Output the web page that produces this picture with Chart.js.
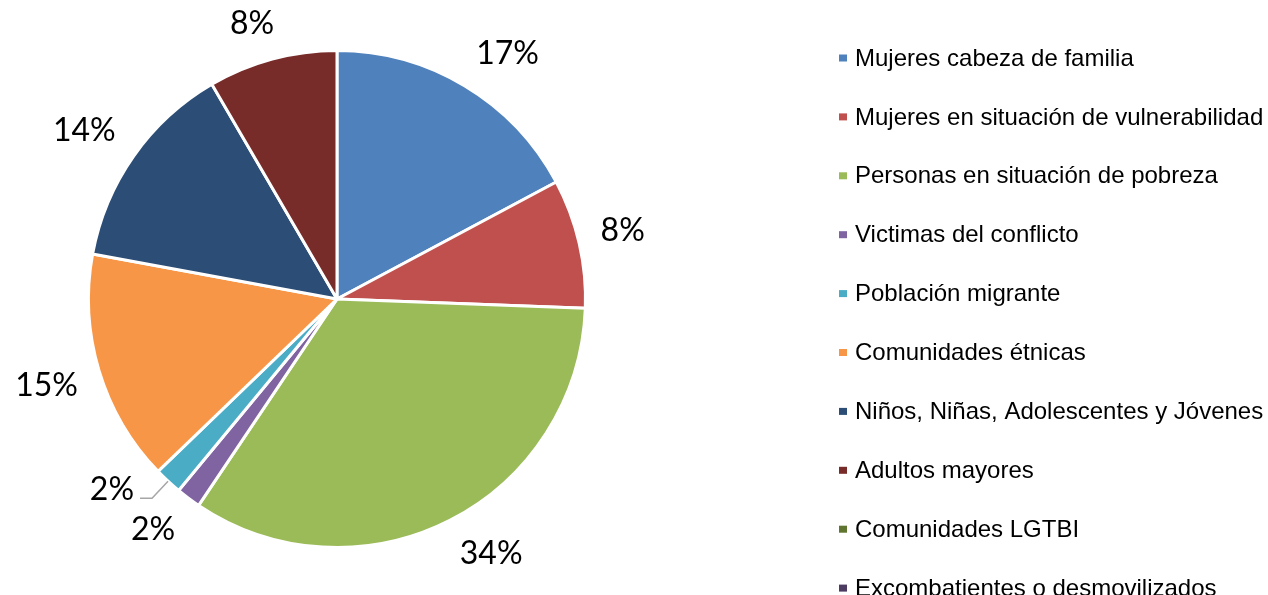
<!DOCTYPE html>
<html>
<head>
<meta charset="utf-8">
<script src="https://cdn.jsdelivr.net/npm/chart.js@4/dist/chart.umd.min.js"></script>
<style>
html,body{margin:0;padding:0;background:#fff;}
#wrap{position:relative;width:1268px;height:595px;}
</style>
</head>
<body>
<div id="wrap"><canvas id="c" width="1268" height="595"></canvas></div>
<script>
const categories = [
  "Mujeres cabeza de familia",
  "Mujeres en situación de vulnerabilidad",
  "Personas en situación de pobreza",
  "Victimas del conflicto",
  "Población migrante",
  "Comunidades étnicas",
  "Niños, Niñas, Adolescentes y Jóvenes",
  "Adultos mayores",
  "Comunidades LGTBI",
  "Excombatientes o desmovilizados"
];
const values = [17.2, 8.4, 33.8, 1.6, 1.8, 15.1, 13.7, 8.4, 0, 0];
const colors = ["#4F81BD","#C0504D","#9BBB59","#8064A2","#4BACC6","#F79646","#2C4D75","#772C2A","#5F7530","#4D3B62"];

function soft(v) { return Math.max(-1, Math.min(1, v * 2.5)); }

const labelPlugin = {
  id: 'pctLabels',
  afterDatasetsDraw(chart) {
    const ctx = chart.ctx;
    const meta = chart.getDatasetMeta(0);
    const total = values.reduce((a,b)=>a+b,0);
    ctx.save();
    ctx.font = '32px Lato, "Open Sans", sans-serif';
    ctx.fillStyle = '#000';
    ctx.textAlign = 'center';
    ctx.textBaseline = 'middle';
    meta.data.forEach((arc, i) => {
      if (!values[i]) return;
      const p = arc.getProps(['x','y','startAngle','endAngle','outerRadius'], true);
      const mid = (p.startAngle + p.endAngle) / 2;
      const dx = Math.cos(mid), dy = Math.sin(mid);
      const px = p.x + dx * p.outerRadius, py = p.y + dy * p.outerRadius;
      const txt = Math.round(values[i] / total * 100) + '%';
      if (i === 4) {
        ctx.strokeStyle = '#A6A6A6';
        ctx.lineWidth = 1.5;
        ctx.beginPath();
        ctx.moveTo(px, py);
        ctx.lineTo(px - 16, py + 17);
        ctx.lineTo(px - 28, py + 17);
        ctx.stroke();
        ctx.textAlign = 'right';
        ctx.fillText(txt, px - 34, py + 8);
        ctx.textAlign = 'center';
        return;
      }
      const w = ctx.measureText(txt).width, h = 24;
      const cx = px + dx * 22 + soft(dx) * w / 2;
      const cy = py + dy * 24 + soft(dy) * h / 2;
      ctx.fillText(txt, cx, cy);
    });
    ctx.restore();
  }
};

const legendPlugin = {
  id: 'customLegend',
  afterDraw(chart) {
    const ctx = chart.ctx;
    ctx.save();
    ctx.font = '24px "Liberation Sans", Arial, sans-serif';
    ctx.textBaseline = 'middle';
    ctx.textAlign = 'left';
    categories.forEach((c, i) => {
      const y = 58 + i * 58.9;
      ctx.fillStyle = colors[i];
      ctx.fillRect(839, y - 3.5, 8, 7);
      ctx.fillStyle = '#000';
      ctx.fillText(c, 855, y + 1);
    });
    ctx.restore();
  }
};

new Chart(document.getElementById('c'), {
  type: 'pie',
  data: {
    labels: categories,
    datasets: [{
      data: values,
      backgroundColor: colors,
      borderColor: '#ffffff',
      borderWidth: 3
    }]
  },
  options: {
    responsive: false,
    animation: false,
    layout: { padding: { left: 87, right: 681, top: 49, bottom: 46 } },
    plugins: {
      legend: { display: false },
      tooltip: { enabled: false }
    }
  },
  plugins: [labelPlugin, legendPlugin]
});
</script>
</body>
</html>
